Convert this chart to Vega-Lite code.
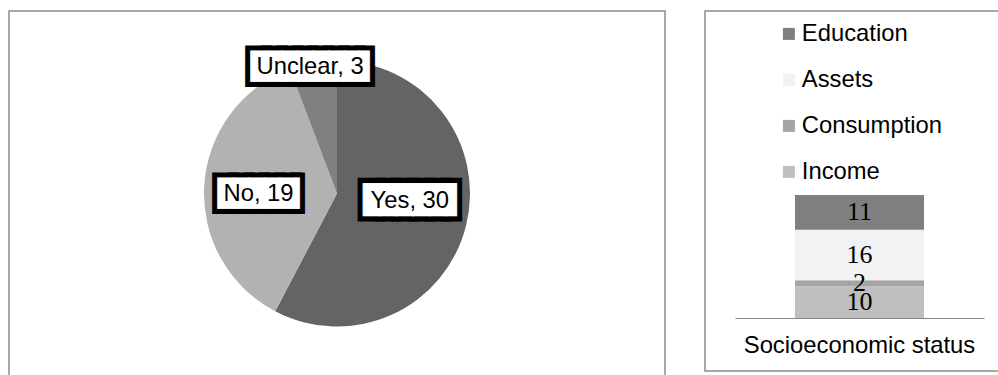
{
  "$schema": "https://vega.github.io/schema/vega-lite/v6.json",
  "background": "white",
  "padding": {"left": 8, "top": 10, "right": 0, "bottom": 0},
  "config": {
    "font": "Liberation Sans",
    "view": {"stroke": "#8c8c8c", "strokeWidth": 1.5},
    "style": {"view": {"stroke": "#8c8c8c", "strokeWidth": 1.5}}
  },
  "datasets": {
    "pie": [
      {"cat": "Yes", "value": 30, "label": "Yes, 30"},
      {"cat": "No", "value": 19, "label": "No, 19"},
      {"cat": "Unclear", "value": 3, "label": "Unclear, 3"}
    ],
    "ses": [
      {"group": "Socioeconomic status", "component": "Income", "value": 10},
      {"group": "Socioeconomic status", "component": "Consumption", "value": 2},
      {"group": "Socioeconomic status", "component": "Assets", "value": 16},
      {"group": "Socioeconomic status", "component": "Education", "value": 11}
    ]
  },
  "spacing": 38,
  "resolve": {"scale": {"color": "independent"}, "legend": {"color": "independent"}},
  "hconcat": [
    {
      "width": 656,
      "height": 365,
      "view": {"stroke": "#8c8c8c", "strokeWidth": 1.5},
      "data": {"name": "pie"},
      "encoding": {
        "theta": {"field": "value", "type": "quantitative", "stack": true},
        "order": {"field": "value", "type": "quantitative", "sort": "descending"}
      },
      "layer": [
        {
          "mark": {"type": "arc", "outerRadius": 133},
          "encoding": {
            "color": {"field": "cat", "type": "nominal", "scale": {"domain": ["Yes", "No", "Unclear"], "range": ["#646464", "#b2b2b2", "#808080"]}, "legend": null}
          }
        },
        {
          "mark": {"type": "text", "radius": 130, "align": "left", "baseline": "middle", "dx": -62.7, "dy": 1.2, "font": "DejaVu Sans Mono", "fontSize": 25.8, "fill": "#000000", "stroke": "#000000", "strokeWidth": 11, "strokeJoin": "miter"},
          "encoding": {"detail": {"field": "cat"}, "text": {"condition": {"test": "datum.cat === 'Unclear'", "value": "███████▋"}, "value": ""}}
        },
        {
          "mark": {"type": "text", "radius": 130, "align": "left", "baseline": "middle", "dx": -62.7, "dy": 1.2, "font": "DejaVu Sans Mono", "fontSize": 25.8, "fill": "#ffffff", "stroke": "#ffffff", "strokeWidth": 0.8},
          "encoding": {"detail": {"field": "cat"}, "text": {"condition": {"test": "datum.cat === 'Unclear'", "value": "███████▋"}, "value": ""}}
        },
        {
          "mark": {"type": "text", "radius": 130, "align": "center", "baseline": "middle", "dx": -3.5, "dy": 1.4, "fontSize": 23.8, "fill": "#000000"},
          "encoding": {"detail": {"field": "cat"}, "text": {"condition": {"test": "datum.cat === 'Unclear'", "field": "label"}, "value": ""}}
        },
        {
          "mark": {"type": "text", "radius": 75, "align": "left", "baseline": "middle", "dx": -46.5, "dy": -10.6, "font": "DejaVu Sans Mono", "fontSize": 27.5, "fill": "#000000", "stroke": "#000000", "strokeWidth": 11, "strokeJoin": "miter"},
          "encoding": {"detail": {"field": "cat"}, "text": {"condition": {"test": "datum.cat === 'Yes'", "value": "█████▋"}, "value": ""}}
        },
        {
          "mark": {"type": "text", "radius": 75, "align": "left", "baseline": "middle", "dx": -46.5, "dy": -10.6, "font": "DejaVu Sans Mono", "fontSize": 27.5, "fill": "#ffffff", "stroke": "#ffffff", "strokeWidth": 0.8},
          "encoding": {"detail": {"field": "cat"}, "text": {"condition": {"test": "datum.cat === 'Yes'", "value": "█████▋"}, "value": ""}}
        },
        {
          "mark": {"type": "text", "radius": 75, "align": "center", "baseline": "middle", "dx": 0, "dy": -10.5, "fontSize": 23.8, "fill": "#000000"},
          "encoding": {"detail": {"field": "cat"}, "text": {"condition": {"test": "datum.cat === 'Yes'", "field": "label"}, "value": ""}}
        },
        {
          "mark": {"type": "text", "radius": 79, "align": "left", "baseline": "middle", "dx": -40.4, "dy": 4.8, "font": "DejaVu Sans Mono", "fontSize": 25.8, "fill": "#000000", "stroke": "#000000", "strokeWidth": 11, "strokeJoin": "miter"},
          "encoding": {"detail": {"field": "cat"}, "text": {"condition": {"test": "datum.cat === 'No'", "value": "█████▎"}, "value": ""}}
        },
        {
          "mark": {"type": "text", "radius": 79, "align": "left", "baseline": "middle", "dx": -40.4, "dy": 4.8, "font": "DejaVu Sans Mono", "fontSize": 25.8, "fill": "#ffffff", "stroke": "#ffffff", "strokeWidth": 0.8},
          "encoding": {"detail": {"field": "cat"}, "text": {"condition": {"test": "datum.cat === 'No'", "value": "█████▎"}, "value": ""}}
        },
        {
          "mark": {"type": "text", "radius": 79, "align": "center", "baseline": "middle", "dx": 0.4, "dy": 5.2, "fontSize": 23.8, "fill": "#000000"},
          "encoding": {"detail": {"field": "cat"}, "text": {"condition": {"test": "datum.cat === 'No'", "field": "label"}, "value": ""}}
        }
      ]
    },
    {
      "width": 294,
      "height": 360,
      "data": {"name": "ses"},
      "transform": [{"window": [{"op": "row_number", "as": "rank"}]}],
      "encoding": {
        "x": {
          "field": "group", "type": "nominal",
          "scale": {"range": [30, 279], "paddingInner": 0, "paddingOuter": 0.465},
          "axis": {"orient": "bottom", "offset": -53, "title": null, "domainColor": "#868686", "domainWidth": 1.2, "ticks": false, "labelAngle": 0, "labelFontSize": 23.8, "labelColor": "#000000", "labelPadding": 15, "labelLimit": 0, "grid": false}
        },
        "order": {"field": "rank", "type": "quantitative", "sort": "ascending"}
      },
      "layer": [
        {
          "mark": {"type": "bar"},
          "encoding": {
            "y": {"field": "value", "type": "quantitative", "stack": "zero", "scale": {"domain": [-16.81, 97.34], "nice": false, "zero": false}, "axis": null},
            "color": {
              "field": "component", "type": "nominal",
              "scale": {"domain": ["Education", "Assets", "Consumption", "Income"], "range": ["#7f7f7f", "#f2f2f2", "#a5a5a5", "#bfbfbf"]},
              "legend": {"orient": "none", "legendX": 72, "legendY": 11, "direction": "vertical", "title": null, "symbolType": "square", "symbolSize": 144, "symbolStrokeWidth": 0, "labelFontSize": 23.8, "labelColor": "#000000", "labelOffset": 1, "rowPadding": 21, "padding": 0, "labelLimit": 0}
            }
          }
        },
        {
          "mark": {"type": "text", "baseline": "middle", "align": "center", "font": "Liberation Serif", "fontSize": 26, "fill": "#000000"},
          "encoding": {
            "y": {"field": "value", "type": "quantitative", "stack": "zero", "bandPosition": 0.5},
            "detail": {"field": "component"},
            "text": {"field": "value", "type": "quantitative"}
          }
        }
      ]
    }
  ]
}
